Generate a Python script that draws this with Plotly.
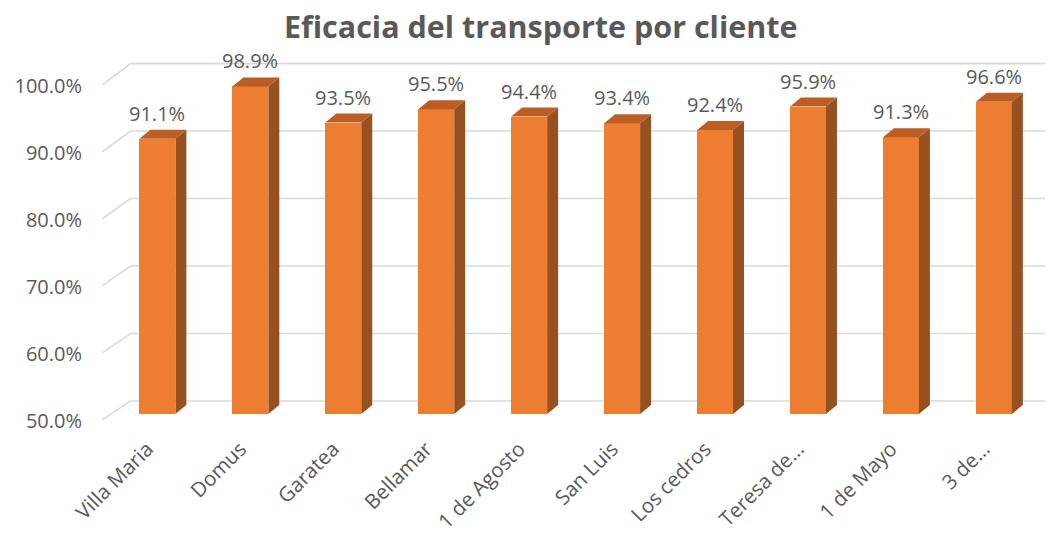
import plotly.graph_objects as go

# ---- data ----
categories = ["Villa Maria", "Domus", "Garatea", "Bellamar", "1 de Agosto",
              "San Luis", "Los cedros", "Teresa de…", "1 de Mayo", "3 de…"]
values = [91.1, 98.9, 93.5, 95.5, 94.4, 93.4, 92.4, 95.9, 91.3, 96.6]
tick_vals = [50, 60, 70, 80, 90, 100]
tick_text = ["50.0%", "60.0%", "70.0%", "80.0%", "90.0%", "100.0%"]
title_text = "Eficacia del transporte por cliente"

# ---- style / geometry ----
FRONT = "#ED7D31"
SIDE = "#97501F"
TOP = "#BA5E26"
GRID = "#D9D9D9"
TXT = "#595959"
BASE = 50
W = 0.387      # front face width (category units)
DX = 0.118     # depth offset of bar, x
DZ = 1.345     # depth offset of bar, y
X0, X1 = -0.65, 9.55
Y0, Y1 = 48.5, 103.0
FRONT_X, BACK_X = -0.591, -0.29

xs = list(range(len(categories)))

fig = go.Figure()

# back-wall gridlines with left-wall diagonal (drawn below the bars)
shapes = []
for v in tick_vals:
    back = 51.94 + (v - 50) * (337 / 334.5)
    shapes.append(dict(type="path", xref="x", yref="y", layer="below",
                       path=f"M {FRONT_X},{v - 0.85} L {BACK_X},{back} L {X1},{back}",
                       line=dict(color=GRID, width=1.6)))

# front faces
fig.add_trace(go.Bar(x=xs, y=[v - BASE for v in values], base=BASE, width=W,
                     marker=dict(color=FRONT, line=dict(width=0)), showlegend=False))

# side faces
sx, sy = [], []
for i, v in zip(xs, values):
    a = i + W / 2
    sx += [a, a + DX, a + DX, a, a, None]
    sy += [BASE, BASE + DZ, v + DZ, v, BASE, None]
fig.add_trace(go.Scatter(x=sx, y=sy, mode="lines", fill="toself", fillcolor=SIDE,
                         line=dict(width=0, color=SIDE), hoverinfo="skip", showlegend=False))

# top faces
tx, ty = [], []
for i, v in zip(xs, values):
    l, r = i - W / 2, i + W / 2
    tx += [l, r, r + DX, l + DX, l, None]
    ty += [v, v, v + DZ, v + DZ, v, None]
fig.add_trace(go.Scatter(x=tx, y=ty, mode="lines", fill="toself", fillcolor=TOP,
                         line=dict(width=0, color=TOP), hoverinfo="skip", showlegend=False))

# data labels
for i, v in zip(xs, values):
    fig.add_annotation(x=i, y=v + DZ, text=f"{v:.1f}%", showarrow=False,
                       yanchor="bottom", yshift=1,
                       font=dict(family="Open Sans", size=20, color=TXT))

fig.update_layout(
    width=1052, height=534,
    margin=dict(l=96.55, r=1052 - 96.55 - (X1 - X0) * 93, t=59.4, b=110, autoexpand=False),
    paper_bgcolor="white", plot_bgcolor="white",
    shapes=shapes,
    title=dict(text=f"<b>{title_text}</b>", x=0.514, xanchor="center", y=0.949, yanchor="middle",
               font=dict(family="Open Sans", size=30.5, color=TXT)),
    xaxis=dict(range=[X0, X1], tickvals=xs, ticktext=categories, tickangle=-45,
               showgrid=False, zeroline=False, showline=False, ticks="", automargin=False,
               ticklabelstandoff=8, ticklabelshift=-10,
               tickfont=dict(family="Open Sans", size=20.5, color=TXT)),
    yaxis=dict(range=[Y0, Y1], tickvals=tick_vals, ticktext=tick_text,
               showgrid=False, zeroline=False, showline=False, ticks="", automargin=False,
               ticklabelstandoff=14, ticklabelshift=7,
               tickfont=dict(family="Open Sans", size=20, color=TXT)),
    bargap=0,
)

fig.write_html("out.html", config={"displayModeBar": False},
               post_script="document.body.style.margin='0';document.body.style.overflow='hidden';")
